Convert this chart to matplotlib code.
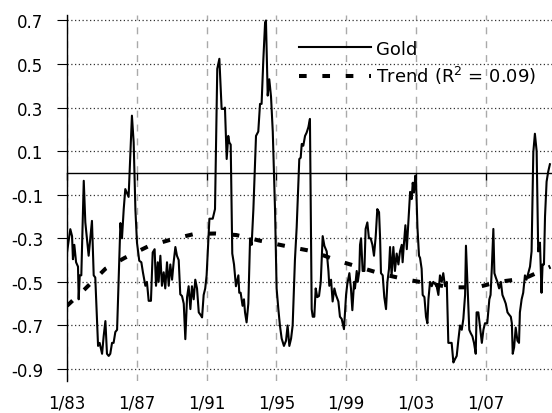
import matplotlib
matplotlib.use("Agg")
import matplotlib.pyplot as plt

# gold series (decimal year, value)
gold_x = [1983.00, 1983.19, 1983.29, 1983.34, 1983.42, 1983.52, 1983.63, 1983.67, 1983.73, 1983.82,
          1983.96, 1984.05, 1984.24, 1984.43, 1984.53, 1984.62, 1984.78, 1984.87, 1985.01, 1985.10,
          1985.20, 1985.29, 1985.39, 1985.48, 1985.58, 1985.67, 1985.77, 1985.87, 1986.06, 1986.15,
          1986.25, 1986.34, 1986.53, 1986.63, 1986.72, 1986.82, 1986.92, 1987.01, 1987.14, 1987.26,
          1987.35, 1987.49, 1987.58, 1987.68, 1987.81, 1987.91, 1988.02, 1988.10, 1988.20, 1988.25,
          1988.35, 1988.44, 1988.54, 1988.63, 1988.73, 1988.83, 1988.92, 1989.02, 1989.11, 1989.21,
          1989.30, 1989.40, 1989.49, 1989.59, 1989.69, 1989.78, 1989.88, 1989.97, 1990.07, 1990.16,
          1990.26, 1990.35, 1990.45, 1990.55, 1990.64, 1990.74, 1990.83, 1990.92, 1991.00, 1991.16,
          1991.35, 1991.48, 1991.61, 1991.73, 1991.86, 1992.00, 1992.05, 1992.15, 1992.24, 1992.30,
          1992.38, 1992.47, 1992.57, 1992.68, 1992.82, 1992.87, 1992.95, 1993.06, 1993.14, 1993.20,
          1993.29, 1993.39, 1993.49, 1993.58, 1993.68, 1993.83, 1993.96, 1994.06, 1994.15, 1994.25,
          1994.35, 1994.40, 1994.50, 1994.59, 1994.69, 1994.79, 1994.92, 1995.01, 1995.11, 1995.20,
          1995.30, 1995.43, 1995.55, 1995.64, 1995.74, 1995.84, 1995.93, 1996.06, 1996.16, 1996.31,
          1996.39, 1996.45, 1996.54, 1996.64, 1996.73, 1996.83, 1996.92, 1997.02, 1997.08, 1997.17,
          1997.25, 1997.34, 1997.44, 1997.54, 1997.65, 1997.75, 1997.88, 1997.98, 1998.03, 1998.13,
          1998.22, 1998.32, 1998.41, 1998.55, 1998.64, 1998.74, 1998.87, 1998.99, 1999.06, 1999.18,
          1999.27, 1999.35, 1999.45, 1999.50, 1999.60, 1999.66, 1999.75, 1999.79, 1999.85, 1999.94,
          2000.04, 2000.11, 2000.21, 2000.30, 2000.40, 2000.50, 2000.59, 2000.69, 2000.78, 2000.88,
          2000.94, 2000.99, 2001.09, 2001.18, 2001.28, 2001.36, 2001.45, 2001.51, 2001.60, 2001.70,
          2001.79, 2001.89, 2001.99, 2002.08, 2002.18, 2002.23, 2002.31, 2002.39, 2002.47, 2002.56,
          2002.66, 2002.75, 2002.81, 2002.88, 2002.96, 2003.00, 2003.08, 2003.17, 2003.23, 2003.32,
          2003.38, 2003.48, 2003.57, 2003.65, 2003.71, 2003.80, 2003.90, 2003.99, 2004.09, 2004.18,
          2004.28, 2004.37, 2004.47, 2004.56, 2004.66, 2004.76, 2004.85, 2004.95, 2005.04, 2005.14,
          2005.23, 2005.33, 2005.42, 2005.52, 2005.62, 2005.71, 2005.81, 2005.86, 2005.94, 2006.05,
          2006.13, 2006.23, 2006.32, 2006.42, 2006.47, 2006.57, 2006.77, 2006.86, 2006.95, 2007.08,
          2007.20, 2007.27, 2007.34, 2007.43, 2007.49, 2007.57, 2007.66, 2007.76, 2007.86, 2007.95,
          2008.05, 2008.14, 2008.24, 2008.33, 2008.43, 2008.49, 2008.54, 2008.62, 2008.71, 2008.81,
          2008.90, 2008.95, 2009.05, 2009.14, 2009.24, 2009.33, 2009.43, 2009.53, 2009.62, 2009.72,
          2009.81, 2009.91, 2010.00, 2010.10, 2010.19, 2010.25, 2010.33, 2010.39, 2010.48, 2010.57,
          2010.67]
gold_y = [-0.365, -0.258, -0.29, -0.396, -0.33, -0.41, -0.43, -0.58, -0.47, -0.47,
          -0.036, -0.227, -0.38, -0.22, -0.47, -0.48, -0.794, -0.78, -0.83, -0.75,
          -0.68, -0.83, -0.84, -0.83, -0.78, -0.78, -0.73, -0.72, -0.23, -0.30,
          -0.166, -0.074, -0.11, 0.08, 0.263, 0.14, -0.17, -0.32, -0.403, -0.41,
          -0.456, -0.518, -0.50, -0.587, -0.587, -0.365, -0.35, -0.518, -0.41, -0.50,
          -0.38, -0.518, -0.456, -0.53, -0.41, -0.518, -0.42, -0.49, -0.41, -0.34,
          -0.38, -0.40, -0.557, -0.565, -0.60, -0.763, -0.57, -0.52, -0.625, -0.52,
          -0.58, -0.49, -0.53, -0.64, -0.65, -0.663, -0.56, -0.53, -0.47, -0.21,
          -0.21, -0.166, 0.478, 0.524, 0.294, 0.294, 0.30, 0.064, 0.17, 0.14,
          0.13, -0.37, -0.42, -0.52, -0.47, -0.55, -0.55, -0.61, -0.58, -0.64,
          -0.686, -0.60, -0.30, -0.33, -0.166, 0.17, 0.19, 0.317, 0.317, 0.52,
          0.69, 0.70, 0.355, 0.43, 0.35, 0.19, -0.17, -0.53, -0.625, -0.70,
          -0.76, -0.794, -0.77, -0.70, -0.794, -0.76, -0.70, -0.40, -0.25, 0.064,
          0.07, 0.133, 0.125, 0.17, 0.185, 0.21, 0.248, -0.625, -0.66, -0.66,
          -0.53, -0.57, -0.565, -0.50, -0.29, -0.335, -0.36, -0.45, -0.518, -0.49,
          -0.59, -0.53, -0.56, -0.59, -0.66, -0.67, -0.717, -0.56, -0.51, -0.46,
          -0.53, -0.63, -0.50, -0.53, -0.45, -0.50, -0.45, -0.33, -0.30, -0.45,
          -0.45, -0.257, -0.227, -0.30, -0.30, -0.33, -0.38, -0.29, -0.166, -0.18,
          -0.30, -0.46, -0.47, -0.57, -0.625, -0.50, -0.44, -0.34, -0.47, -0.34,
          -0.45, -0.37, -0.42, -0.36, -0.33, -0.41, -0.32, -0.24, -0.35, -0.227,
          -0.087, -0.12, -0.045, -0.09, -0.0125, -0.04, -0.25, -0.38, -0.39, -0.44,
          -0.56, -0.57, -0.66, -0.69, -0.58, -0.50, -0.52, -0.50, -0.51, -0.52,
          -0.56, -0.47, -0.50, -0.46, -0.52, -0.50, -0.78, -0.78, -0.78, -0.87,
          -0.855, -0.84, -0.77, -0.70, -0.72, -0.67, -0.56, -0.334, -0.50, -0.72,
          -0.735, -0.75, -0.78, -0.83, -0.64, -0.64, -0.78, -0.72, -0.69, -0.69,
          -0.58, -0.56, -0.44, -0.257, -0.46, -0.48, -0.50, -0.53, -0.50, -0.56,
          -0.58, -0.60, -0.64, -0.65, -0.66, -0.69, -0.83, -0.80, -0.71, -0.77,
          -0.78, -0.64, -0.58, -0.55, -0.47, -0.49, -0.46, -0.43, -0.36, 0.096,
          0.18, 0.10, -0.36, -0.32, -0.55, -0.42, -0.42, -0.20, -0.04, 0.005,
          0.04]

# trend line (polynomial fit shown on the chart)
trend_x = [1983.0, 1984.0, 1985.2, 1986.3, 1987.7, 1989.0, 1990.3, 1991.5, 1992.7, 1994.0,
           1995.8, 1997.1, 1998.4, 2001.1, 2002.5, 2003.9, 2005.0, 2006.5, 2007.7, 2009.2, 2010.7]
trend_y = [-0.61, -0.535, -0.44, -0.39, -0.335, -0.305, -0.28, -0.278, -0.285, -0.31,
           -0.34, -0.36, -0.40, -0.465, -0.49, -0.51, -0.525, -0.525, -0.50, -0.485, -0.43]

xticks = [1983, 1987, 1991, 1995, 1999, 2003, 2007]
xlabels = ["1/83", "1/87", "1/91", "1/95", "1/99", "1/03", "1/07"]
yticks = [-0.9, -0.7, -0.5, -0.3, -0.1, 0.1, 0.3, 0.5, 0.7]
ylabels = ["-0.9", "-0.7", "-0.5", "-0.3", "-0.1", "0.1", "0.3", "0.5", "0.7"]

fig = plt.figure(figsize=(5.52, 4.14), dpi=100)
ax = fig.add_axes([67 / 552, 32 / 414, 485 / 552, 366 / 414])
ax.set_xlim(1983, 2010.79)
ax.set_ylim(-0.955, 0.725)

for s in ["top", "right"]:
    ax.spines[s].set_visible(False)
ax.spines["left"].set_linewidth(1.0)
# x axis crosses at zero, labels stay at the bottom
ax.spines["bottom"].set_position(("data", 0))
ax.spines["bottom"].set_linewidth(1.0)
ax.set_xticks(xticks)
ax.tick_params(axis="x", direction="out", length=5, width=1, labelbottom=False)

sec = ax.secondary_xaxis("bottom")
sec.set_xticks(xticks)
sec.set_xticklabels(xlabels, fontsize=12)
sec.tick_params(length=0, pad=9)
sec.spines["bottom"].set_visible(False)

ax.set_yticks(yticks)
ax.set_yticklabels(ylabels, fontsize=12)
ax.tick_params(axis="y", direction="out", length=7, width=0.8, pad=10)

ax.yaxis.grid(True, linestyle=(0, (1, 2)), color="#333333", linewidth=0.9)
ax.xaxis.grid(True, linestyle=(0, (5, 5)), color="#aaaaaa", linewidth=1.0)
ax.set_axisbelow(True)

tr, = ax.plot(trend_x, trend_y, color="black", linewidth=2.9, zorder=2,
              label="Trend (R$^2$ = 0.09)")
tr.set_dashes([1.9, 3.9])
gl, = ax.plot(gold_x, gold_y, color="black", linewidth=1.5, zorder=3, label="Gold")

ax.legend(handles=[gl, tr], loc="upper left", bbox_to_anchor=(0.478, 0.933),
          frameon=False, fontsize=13, handlelength=4.0, handletextpad=0.3,
          borderpad=0, borderaxespad=0, labelspacing=0.38)

fig.savefig("out.png", dpi=100)
